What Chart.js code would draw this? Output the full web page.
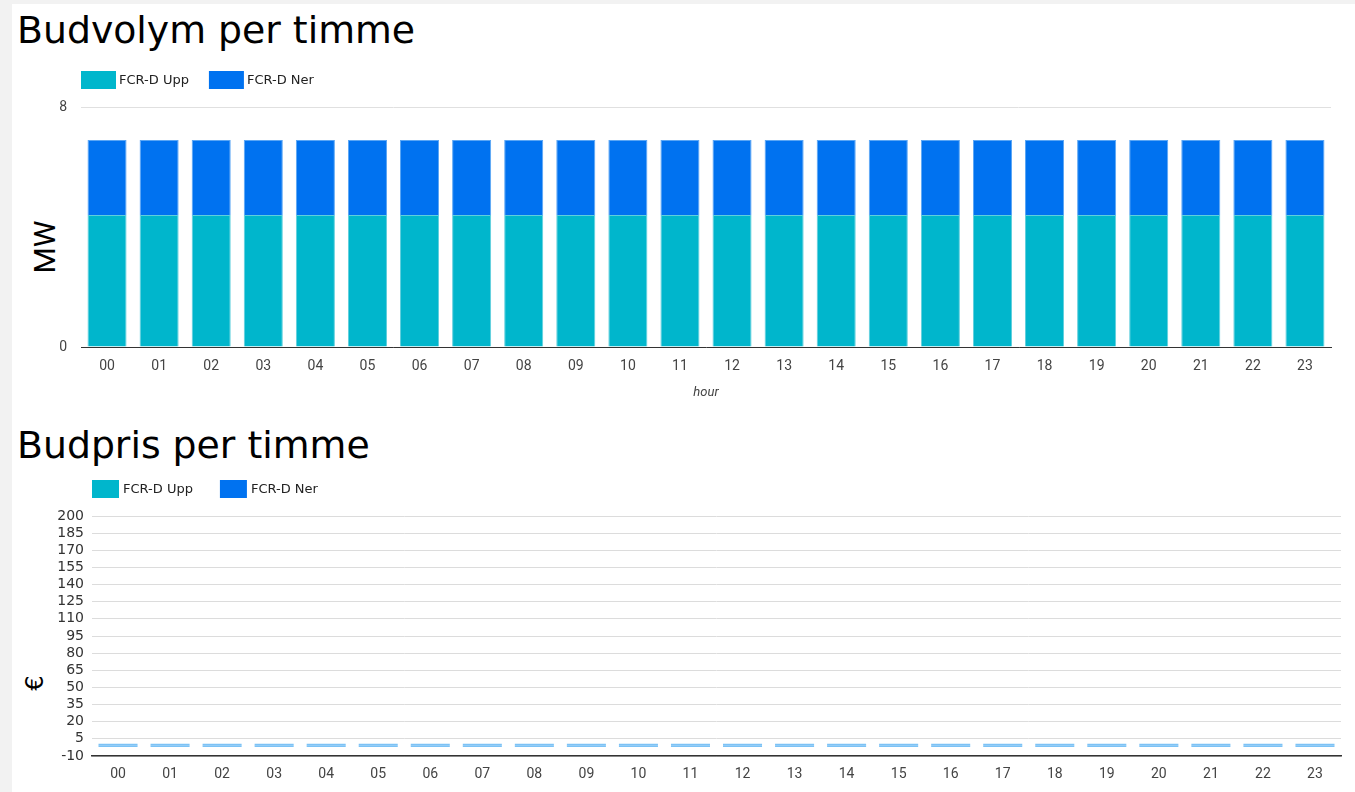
<!DOCTYPE html>
<html>
<head>
<meta charset="utf-8">
<script src="https://cdn.jsdelivr.net/npm/chart.js@4.4.1/dist/chart.umd.min.js"></script>
<style>
  html, body { margin: 0; padding: 0; width: 1355px; height: 792px; overflow: hidden; background: #f2f2f2; }
  #panel { position: absolute; left: 12px; top: 4px; width: 1343px; height: 788px; background: #ffffff; }
  .title { position: absolute; left: 17px; font-family: "DejaVu Sans"; font-size: 37.8px; line-height: 43px; color: #000; white-space: nowrap; }
  .ytitle { position: absolute; transform: translate(-50%, -50%) rotate(-90deg); white-space: nowrap; color: #000; line-height: 1; }
  canvas { position: absolute; left: 0; }
</style>
</head>
<body>
<div id="panel"></div>
<div class="title" style="top:9px">Budvolym per timme</div>
<div class="ytitle" style="left:45px; top:247px; font-size:30px; font-family: Roboto;">MW</div>
<canvas id="volChart" width="1355" height="355" style="top:55px"></canvas>

<div class="title" style="top:424px">Budpris per timme</div>
<div class="ytitle" style="left:35px; top:683px; font-size:24px; font-family: 'DejaVu Sans';">€</div>
<canvas id="priceChart" width="1355" height="332" style="top:460px"></canvas>

<script>
// Hours of the day
const hours = ['00','01','02','03','04','05','06','07','08','09','10','11',
               '12','13','14','15','16','17','18','19','20','21','22','23'];

// Bid volume per hour (MW)
const volumeUpp = [4.4,4.4,4.4,4.4,4.4,4.4,4.4,4.4,4.4,4.4,4.4,4.4,
                   4.4,4.4,4.4,4.4,4.4,4.4,4.4,4.4,4.4,4.4,4.4,4.4];
const volumeNer = [2.5,2.5,2.5,2.5,2.5,2.5,2.5,2.5,2.5,2.5,2.5,2.5,
                   2.5,2.5,2.5,2.5,2.5,2.5,2.5,2.5,2.5,2.5,2.5,2.5];

// Bid price per hour (€)
const priceUpp = [0,0,0,0,0,0,0,0,0,0,0,0,0,0,0,0,0,0,0,0,0,0,0,0];
const priceNer = [0,0,0,0,0,0,0,0,0,0,0,0,0,0,0,0,0,0,0,0,0,0,0,0];

// Axis tick settings
const volumeTicks = { min: 0, max: 8, step: 8 };
const priceTicks = { min: -10, max: 200, step: 15 };

const seriesNames = ['FCR-D Upp', 'FCR-D Ner'];
const uppColor = '#00b6cc';
const nerColor = '#0072f0';
const zeroBarColor = '#7cc2f5';

// Legend drawn as colored boxes above the plot, starting at the plot's left edge
const boxLegend = {
  id: 'boxLegend',
  afterDraw(chart, args, opts) {
    const ctx = chart.ctx;
    ctx.save();
    ctx.font = opts.font;
    ctx.textBaseline = 'middle';
    ctx.textAlign = 'left';
    let x = chart.chartArea.left;
    chart.data.datasets.forEach((ds, i) => {
      ctx.fillStyle = opts.colors[i];
      ctx.fillRect(x, opts.y, opts.boxWidth, opts.boxHeight);
      const tx = x + opts.boxWidth + opts.gap;
      ctx.fillStyle = opts.color;
      ctx.fillText(ds.label, tx, opts.y + opts.boxHeight / 2 + 1);
      x = tx + ctx.measureText(ds.label).width + opts.spacing;
    });
    ctx.restore();
  }
};

const tickFont = { family: 'Roboto', size: 14 };
const tickColor = '#444';

new Chart(document.getElementById('volChart'), {
  type: 'bar',
  data: {
    labels: hours,
    datasets: [
      { label: seriesNames[0], data: volumeUpp, backgroundColor: uppColor, borderColor: '#5fcfdd', borderWidth: 1 },
      { label: seriesNames[1], data: volumeNer, backgroundColor: nerColor, borderColor: '#5aa6f5', borderWidth: 1 }
    ]
  },
  options: {
    responsive: false,
    animation: false,
    events: [],
    barPercentage: 0.75,
    categoryPercentage: 1,
    layout: { padding: { top: 52, right: 24, left: 0, bottom: 0 } },
    plugins: {
      legend: { display: false },
      tooltip: { enabled: false },
      boxLegend: { font: '13px "DejaVu Sans"', color: '#222', colors: [uppColor, nerColor], y: 16, boxWidth: 35, boxHeight: 18, gap: 3, spacing: 20 }
    },
    scales: {
      x: {
        stacked: true,
        grid: { display: false, drawTicks: false },
        border: { display: true, color: '#333', width: 1 },
        ticks: { font: tickFont, color: tickColor, padding: 11 },
        title: { display: true, text: 'hour', color: '#444', font: { family: 'Roboto', size: 13, style: 'italic' }, padding: { top: 0, bottom: 9 } },
        afterFit(s) { s.height = 63; }
      },
      y: {
        stacked: true,
        min: volumeTicks.min,
        max: volumeTicks.max,
        ticks: { stepSize: volumeTicks.step, font: tickFont, color: tickColor, padding: 14 },
        grid: { color: '#e0e0e0', drawTicks: false },
        border: { display: false },
        afterFit(s) { s.width = 81; }
      }
    }
  },
  plugins: [boxLegend]
});

// Zero-valued bids are shown as a thin light line at the zero level
const zeroAware = base => ctx => (ctx.raw === 0 ? zeroBarColor : base);

new Chart(document.getElementById('priceChart'), {
  type: 'bar',
  data: {
    labels: hours,
    datasets: [
      { label: seriesNames[0], data: priceUpp, backgroundColor: zeroAware(uppColor), borderWidth: 0, minBarLength: 1.6 },
      { label: seriesNames[1], data: priceNer, backgroundColor: zeroAware(nerColor), borderWidth: 0, minBarLength: 1.6 }
    ]
  },
  options: {
    responsive: false,
    animation: false,
    events: [],
    barPercentage: 0.75,
    categoryPercentage: 1,
    layout: { padding: { top: 56, right: 14, left: 0, bottom: 0 } },
    plugins: {
      legend: { display: false },
      tooltip: { enabled: false },
      boxLegend: { font: '13px "DejaVu Sans"', color: '#222', colors: [uppColor, nerColor], y: 20, boxWidth: 27, boxHeight: 18, gap: 4, spacing: 27 }
    },
    scales: {
      x: {
        stacked: true,
        grid: { display: false, drawTicks: false },
        border: { display: true, color: '#333', width: 1.5 },
        ticks: { font: tickFont, color: tickColor, padding: 10 },
        afterFit(s) { s.height = 36; }
      },
      y: {
        stacked: true,
        min: priceTicks.min,
        max: priceTicks.max,
        ticks: { stepSize: priceTicks.step, autoSkip: false, font: { family: 'DejaVu Sans', size: 14 }, color: '#333', padding: 8 },
        grid: { color: '#dcdcdc', drawTicks: false },
        border: { display: false },
        afterFit(s) { s.width = 92; }
      }
    }
  },
  plugins: [boxLegend]
});
</script>
</body>
</html>
